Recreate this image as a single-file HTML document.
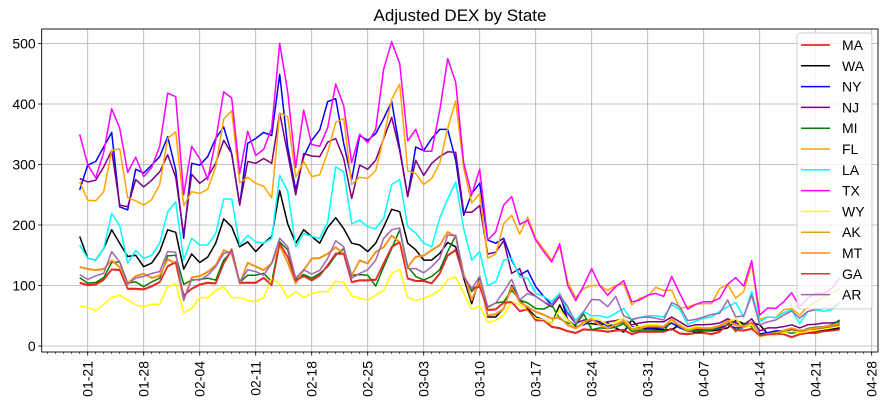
<!DOCTYPE html>
<html><head><meta charset="utf-8"><style>
html,body{margin:0;padding:0;background:#fff;}
svg{display:block;font-family:"Liberation Sans","DejaVu Sans",sans-serif;}
</style></head><body>
<svg id="chart" width="885" height="407" viewBox="0 0 885 407" xmlns="http://www.w3.org/2000/svg">
<text x="460" y="21" font-size="17" text-anchor="middle" fill="#000">Adjusted DEX by State</text>
<g id="grid"></g>
<g id="series"></g>
<g id="axes"></g>
<g id="legend"></g>
</svg>
<script>
const names=["MA","WA","NY","NJ","MI","FL","LA","TX","WY","AK","MT","GA","AR"];
const colors=["#ff0000","#000000","#0000ff","#800080","#008000","#ffa500","#00ffff","#ff00ff","#ffff00","#daa520","#ff8c1a","#dd3333","#a066b0"];
const yTicks=[0,100,200,300,400,500];
const xTickLabels=["01-21","01-28","02-04","02-11","02-18","02-25","03-03","03-10","03-17","03-24","03-31","04-07","04-14","04-21","04-28"];
const xTickDays=[1,8,15,22,29,36,43,50,57,64,71,78,85,92,99];
const MA=[105,101,102,110,127,126,95,95,94,99,106,132,139,84,95,102,105,104,137,160,105,105,105,113,101,170,148,109,116,109,117,134,153,153,106,109,109,110,137,164,172,112,108,108,104,120,150,159,115,95,99,60,61,72,73,58,61,43,43,32,30,25,22,28,27,26,24,26,27,20,24,24,24,24,29,21,20,22,22,20,24,37,27,26,29,18,20,21,20,15,20,22,22,25,26,28];
const WA=[181,145,142,161,192,170,148,150,131,137,156,192,188,127,152,138,147,170,210,197,164,172,156,170,181,257,202,170,192,181,170,196,212,194,170,167,156,170,197,226,222,170,159,142,142,153,171,164,112,70,112,48,48,62,100,76,62,48,43,37,68,43,29,37,37,35,38,30,23,43,30,28,28,27,27,35,28,22,25,25,27,30,42,37,38,35,20,22,24,26,25,24,25,27,28,30];
const NY=[258,299,305,329,353,230,225,292,286,299,313,346,291,178,302,299,313,343,362,318,233,335,343,353,348,449,329,258,313,340,357,404,409,335,275,348,340,351,376,404,327,247,329,323,343,358,358,307,216,252,269,175,170,178,142,117,125,98,82,68,87,43,32,35,43,40,33,35,40,32,30,30,30,30,38,30,25,27,28,28,30,35,30,30,35,20,22,25,25,28,25,28,28,30,32,35];
const NJ=[277,271,274,296,323,233,230,275,263,274,288,316,279,184,284,269,279,302,340,318,233,305,302,310,302,385,318,250,318,314,313,337,343,310,244,299,292,307,343,378,323,247,307,282,302,313,321,320,221,221,232,152,155,174,120,128,92,82,73,65,82,54,37,43,43,37,40,42,45,35,38,40,40,40,48,40,32,35,35,36,38,45,38,35,45,25,30,30,32,35,30,35,36,38,38,40];
const MI=[113,104,105,113,138,139,104,106,98,106,112,149,150,102,109,110,112,109,142,156,105,117,117,120,106,172,159,110,118,112,120,131,150,161,117,118,117,99,131,161,192,131,115,109,115,126,156,183,117,90,104,64,71,73,92,76,71,62,61,68,45,38,35,53,27,30,29,31,37,24,26,27,26,24,43,32,24,25,25,26,32,40,24,37,32,16,18,20,24,21,24,29,31,32,35,43];
const FL=[271,241,240,255,323,326,245,240,233,242,267,343,354,232,255,252,259,296,375,389,270,279,269,264,245,385,379,279,305,280,283,320,370,376,267,279,277,290,345,408,433,290,285,267,277,302,360,405,294,236,252,145,152,202,216,185,213,178,160,142,164,106,80,95,100,100,92,100,103,68,79,82,97,92,92,62,65,69,70,70,95,102,79,90,136,44,48,47,60,62,51,65,73,81,87,95];
const LA=[167,145,142,161,219,199,137,158,145,150,170,222,238,142,178,167,167,186,243,243,167,183,172,170,178,282,256,164,186,181,178,205,296,288,202,208,197,194,211,267,275,197,187,170,164,211,243,271,194,142,156,100,106,142,145,114,112,87,82,73,87,57,43,57,50,50,47,54,62,43,47,50,50,48,68,60,36,41,46,48,57,65,72,48,90,40,48,47,55,60,37,57,60,57,60,68];
const TX=[350,300,278,320,392,360,287,312,280,295,330,418,412,250,330,310,275,340,420,410,285,355,315,325,360,500,420,295,390,333,330,361,433,397,303,350,336,358,458,503,467,339,358,322,322,389,475,436,303,250,292,175,189,233,247,201,208,175,156,139,169,100,75,100,128,100,84,98,108,73,76,84,87,82,115,87,61,69,73,73,79,102,113,99,141,51,63,62,73,88,65,79,87,87,95,112];
const WY=[66,64,58,69,80,84,76,68,65,69,69,98,103,55,62,80,80,92,98,80,80,75,73,80,112,103,80,90,80,87,90,90,107,105,83,79,76,84,92,120,127,80,75,79,84,92,109,114,87,61,66,39,42,51,73,68,58,46,43,37,61,43,29,37,47,43,35,40,46,30,33,35,35,33,42,35,28,32,30,30,33,40,45,30,35,15,18,17,22,25,22,24,26,28,30,33];
const AK=[131,128,126,128,142,131,104,116,120,113,117,144,137,76,114,116,123,134,159,153,104,138,132,126,137,167,138,104,126,145,146,153,164,153,117,142,137,156,164,183,172,131,148,150,159,167,189,181,120,76,109,51,53,62,98,73,65,57,52,46,48,35,30,40,45,35,30,36,42,28,30,33,33,32,45,34,26,30,30,30,34,42,35,32,40,17,20,22,26,30,26,28,30,32,34,38];
const MT=[130,127,125,127,141,130,103,115,119,112,116,143,136,75,113,115,122,133,158,152,103,137,131,125,136,166,137,103,125,144,145,152,163,152,116,141,136,155,163,182,171,130,147,149,158,166,188,180,119,75,108,50,52,61,97,72,64,56,51,45,47,34,29,39,44,34,29,35,41,27,29,32,32,31,44,33,25,29,29,29,33,41,34,31,39,16,19,21,25,29,25,27,29,31,33,37];
const GA=[104,100,101,109,126,125,94,94,93,98,105,131,138,83,94,101,104,103,136,159,104,104,104,112,100,169,147,108,115,108,116,133,152,152,105,108,108,109,136,163,171,111,107,107,103,119,149,158,114,94,98,59,60,71,72,57,60,42,42,31,29,24,21,27,26,25,23,25,26,19,23,23,23,23,28,20,19,21,21,19,23,36,26,25,28,17,19,20,19,14,19,21,21,24,25,27];
const AR=[118,110,116,120,156,139,102,112,115,120,123,156,155,76,110,109,117,131,153,156,106,126,123,117,137,178,164,112,126,119,125,145,174,164,112,120,126,142,178,192,195,128,128,121,131,145,183,183,115,94,115,65,71,90,110,76,87,82,73,68,84,65,37,57,77,76,65,82,50,44,47,48,46,43,72,65,42,44,48,52,54,76,48,50,84,35,40,43,51,58,46,57,60,62,62,72];
const seriesData=[MA,WA,NY,NJ,MI,FL,LA,TX,WY,AK,MT,GA,AR];

const NS="http://www.w3.org/2000/svg";
const L=41.7,R=878,T=29,B=352;
function xScale(day){return 79.7+8.0*day;}
function yScale(v){return 346-v*0.605;}
function mk(tag,attrs,parent){const e=document.createElementNS(NS,tag);for(const k in attrs)e.setAttribute(k,attrs[k]);parent.appendChild(e);return e;}
const grid=document.getElementById('grid'),axes=document.getElementById('axes'),ser=document.getElementById('series'),leg=document.getElementById('legend');
yTicks.forEach(v=>{
  const g=mk('line',{x1:L,x2:R,y1:yScale(v),y2:yScale(v),stroke:'#b0b0b0','stroke-width':0.8},grid);
  
  
  const t=mk('line',{x1:L-3.5,x2:L,y1:yScale(v),y2:yScale(v),stroke:'#000','stroke-width':0.8},axes);
  
  
  const lb=mk('text',{x:L-6,y:yScale(v)+5,'font-size':14,'text-anchor':'end',fill:'#000'},axes);
  lb.textContent=v;
  
  
});
xTickDays.forEach((d,k)=>{
  const x=xScale(d);
  const g=mk('line',{x1:x,x2:x,y1:T,y2:B,stroke:'#b0b0b0','stroke-width':0.8},grid);
  
  
  const t=mk('line',{x1:x,x2:x,y1:B,y2:B+3.5,stroke:'#000','stroke-width':0.8},axes);
  
  
  const lb=mk('text',{x:0,y:0,'font-size':14,'text-anchor':'end',fill:'#000',transform:'translate('+(x+5)+','+(B+9)+') rotate(-90)'},axes);
  lb.textContent=xTickLabels[k];
  
  
});
for(let d=-4;d<=99;d++){
  const x=xScale(d); if(x<L+2)continue;
  const m=mk('line',{x1:x,x2:x,y1:B,y2:B+2,stroke:'#000','stroke-width':0.6},axes);
  
  
}
const frame=mk('rect',{x:L,y:T,width:R-L,height:B-T,fill:'none',stroke:'#000','stroke-width':0.9},axes);


seriesData.forEach((arr,s)=>{
  const pts=arr.map((v,i)=>xScale(i).toFixed(1)+','+yScale(v).toFixed(1)).join(' ');
  const p=mk('polyline',{points:pts,fill:'none',stroke:colors[s],'stroke-width':1.5,'stroke-linejoin':'round'},ser);
  
  
});
const box=mk('rect',{x:797,y:33,width:75,height:276,rx:3,fill:'#fff','fill-opacity':0.8,stroke:'#cccccc','stroke-width':1},leg);


names.forEach((n,k)=>{
  const y=45+k*20.8;
  const ln=mk('line',{x1:801,x2:830,y1:y,y2:y,stroke:colors[k],'stroke-width':1.5},leg);
  
  
  const t=mk('text',{x:842,y:y+5,'font-size':14,fill:'#000'},leg);
  t.textContent=n;
  
  
});
</script>
</body></html>
